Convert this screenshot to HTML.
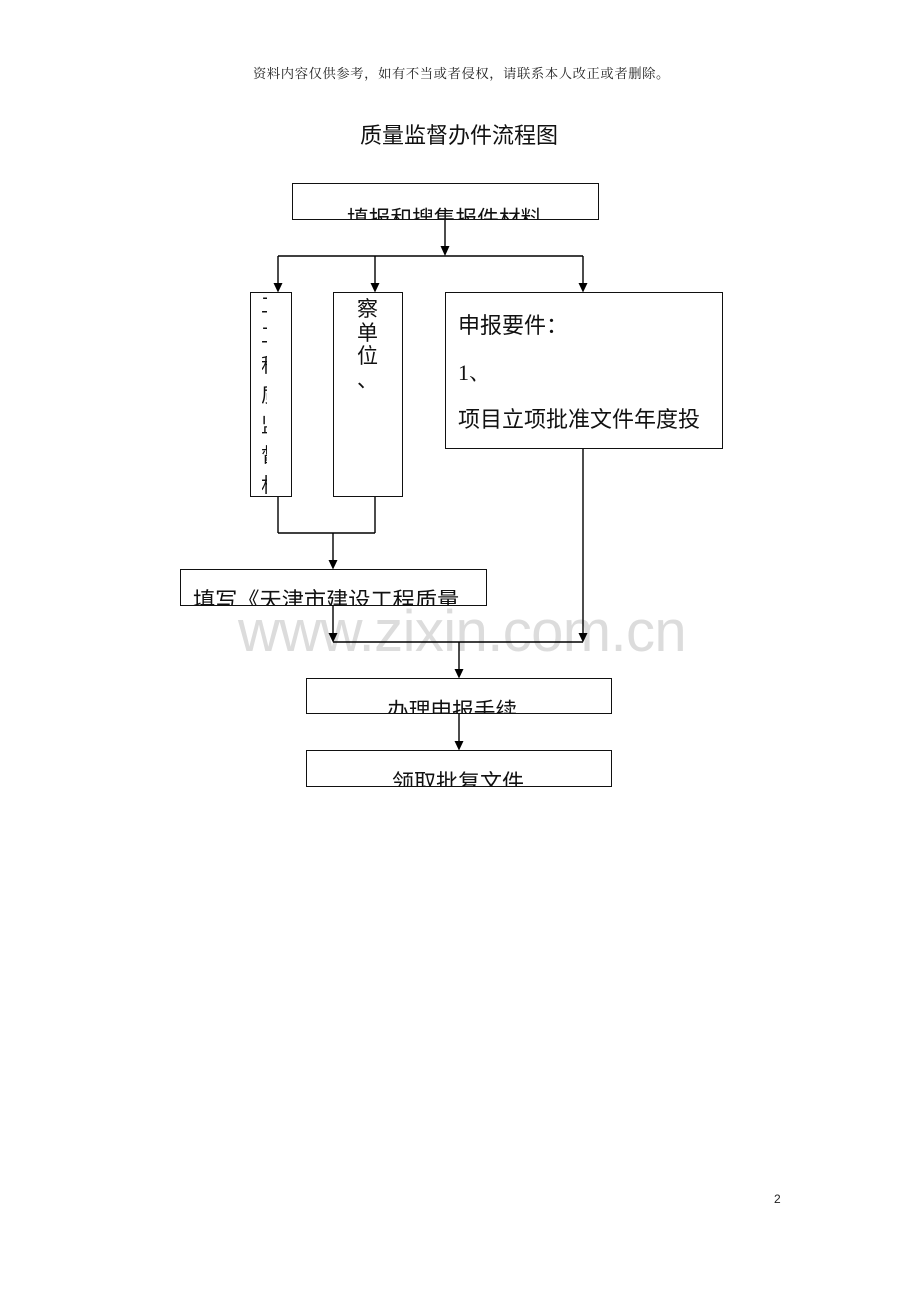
<!DOCTYPE html>
<html>
<head>
<meta charset="utf-8">
<style>
  html, body { margin:0; padding:0; background:#fff; }
  body { width:920px; height:1302px; position:relative; overflow:hidden;
         font-family:"Liberation Sans","Noto Sans CJK SC",sans-serif; }
  .abs { position:absolute; white-space:nowrap; }
  .clip { position:absolute; overflow:hidden; }
  .cjk { font-family:"Liberation Sans","Noto Sans CJK SC",sans-serif; line-height:1; color:#111; }
  .wm { position:absolute; left:238px; top:603px; font-family:"Liberation Sans",sans-serif;
        font-size:58px; line-height:58px; color:#dcdcdc; white-space:nowrap; letter-spacing:-0.6px; }
</style>
</head>
<body>

<div class="abs" style="left:253px;top:67px;font-family:'Liberation Serif','Noto Serif CJK SC',serif;font-size:13.3px;letter-spacing:0.6px;line-height:1;color:#222;">资料内容仅供参考，如有不当或者侵权，请联系本人改正或者删除。</div>

<div class="abs cjk" style="left:360px;top:125px;font-size:22px;color:#111;">质量监督办件流程图</div>

<div class="wm">www.zixin.com.cn</div>

<!-- Box 1 text -->
<div class="clip" style="left:293px;top:184px;width:305px;height:35px;">
  <div class="abs cjk" style="left:54px;top:24px;font-size:21.7px;">填报和搜集报件材料</div>
</div>

<!-- Box A fragments -->
<div class="clip" style="left:262px;top:293px;width:5px;height:202px;">
  <div class="abs cjk" style="left:-1px;top:-2px;font-size:20px;line-height:30px;white-space:normal;width:20px;">工<br>工<br>程<br>质<br>监<br>督<br>机</div>
</div>

<!-- Box B text -->
<div class="clip" style="left:334px;top:293px;width:69px;height:203px;">
  <div class="abs cjk" style="left:23px;top:5px;font-size:21px;line-height:23.5px;white-space:normal;width:22px;">察<br>单<br>位<br>、</div>
</div>

<!-- Box C text -->
<div class="abs cjk" style="left:458px;top:315px;font-size:22px;">申报要件：</div>
<div class="abs" style="left:458px;top:362px;font-family:'Liberation Serif','Noto Serif CJK SC',serif;font-size:22px;line-height:1;color:#111;">1、</div>
<div class="abs cjk" style="left:458px;top:409px;font-size:22px;">项目立项批准文件年度投</div>

<!-- Box D text -->
<div class="clip" style="left:182px;top:570px;width:304px;height:36px;">
  <div class="abs cjk" style="left:11px;top:20px;font-size:22.2px;">填写《天津市建设工程质量</div>
</div>

<!-- Box E text -->
<div class="clip" style="left:307px;top:679px;width:304px;height:34px;">
  <div class="abs cjk" style="left:80px;top:21px;font-size:21.7px;">办理申报手续</div>
</div>

<!-- Box F text -->
<div class="clip" style="left:307px;top:751px;width:304px;height:35px;">
  <div class="abs cjk" style="left:85px;top:21px;font-size:22px;">领取批复文件</div>
</div>

<div class="abs" style="left:774px;top:1193px;font-family:'Liberation Sans',sans-serif;font-size:12px;line-height:1;color:#222;">2</div>

<svg width="920" height="1302" style="position:absolute;left:0;top:0;" xmlns="http://www.w3.org/2000/svg">
  <g fill="none" stroke="#111" stroke-width="1">
    <rect x="292.5" y="183.5" width="306" height="36"/>
    <rect x="250.5" y="292.5" width="41" height="204"/>
    <rect x="333.5" y="292.5" width="69" height="204"/>
    <rect x="445.5" y="292.5" width="277" height="156"/>
    <rect x="180.5" y="569.5" width="306" height="36"/>
    <rect x="306.5" y="678.5" width="305" height="35"/>
    <rect x="306.5" y="750.5" width="305" height="36"/>
  </g>
  <g fill="none" stroke="#000" stroke-width="1.4">
    <line x1="445" y1="220" x2="445" y2="248"/>
    <line x1="278" y1="256" x2="583" y2="256"/>
    <line x1="278" y1="256" x2="278" y2="285"/>
    <line x1="375" y1="256" x2="375" y2="285"/>
    <line x1="583" y1="256" x2="583" y2="285"/>
    <line x1="278" y1="497" x2="278" y2="533"/>
    <line x1="375" y1="497" x2="375" y2="533"/>
    <line x1="278" y1="533" x2="375" y2="533"/>
    <line x1="333" y1="533" x2="333" y2="562"/>
    <line x1="333" y1="606" x2="333" y2="635"/>
    <line x1="583" y1="449" x2="583" y2="635"/>
    <line x1="333" y1="642" x2="583" y2="642"/>
    <line x1="459" y1="642" x2="459" y2="671"/>
    <line x1="459" y1="714" x2="459" y2="743"/>
  </g>
  <g fill="#000">
    <polygon points="440.5,246 449.5,246 445,256"/>
    <polygon points="273.5,283 282.5,283 278,292.5"/>
    <polygon points="370.5,283 379.5,283 375,292.5"/>
    <polygon points="578.5,283 587.5,283 583,292.5"/>
    <polygon points="328.5,560 337.5,560 333,569.5"/>
    <polygon points="328.5,633 337.5,633 333,642.5"/>
    <polygon points="578.5,633 587.5,633 583,642.5"/>
    <polygon points="454.5,669 463.5,669 459,678.5"/>
    <polygon points="454.5,741 463.5,741 459,750.5"/>
  </g>
</svg>

</body>
</html>
